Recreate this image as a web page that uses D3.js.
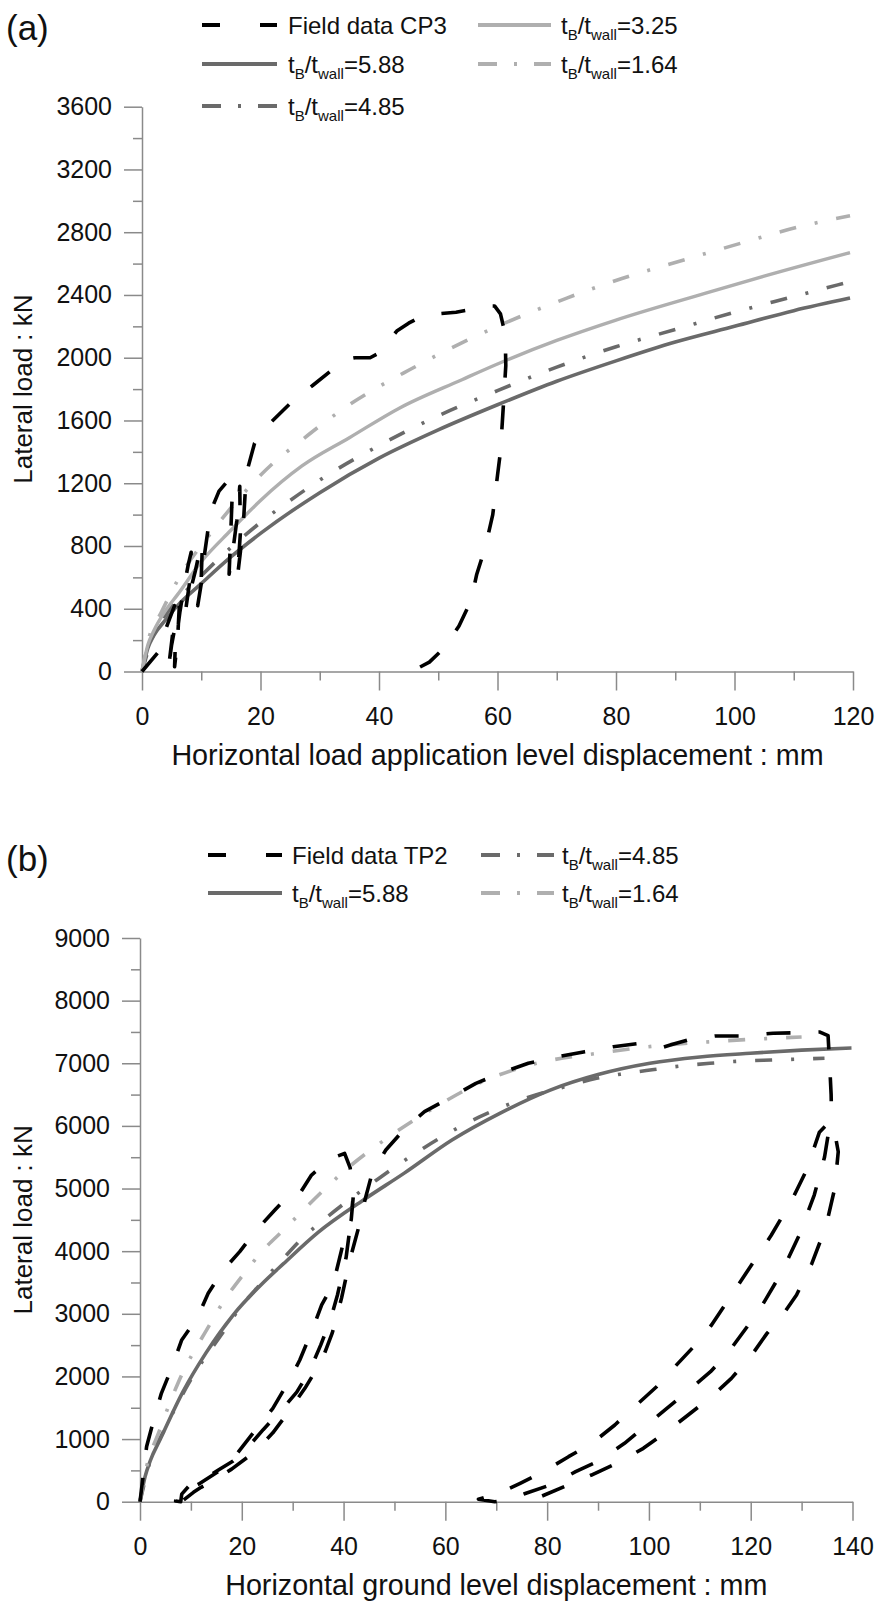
<!DOCTYPE html>
<html>
<head>
<meta charset="utf-8">
<script src="https://cdn.jsdelivr.net/npm/d3@7"></script>
<style>
  html, body { margin: 0; padding: 0; background: #fff; }
  svg { display: block; font-family: "Liberation Sans", Arial, Helvetica, sans-serif; }
</style>
</head>
<body>
<svg id="chart" width="877" height="1601"></svg>
<script>
// ---------- Panel (a): lateral load vs load-application-level displacement ----------
const aXTicks = [0, 20, 40, 60, 80, 100, 120];
const aXMinor = [10, 30, 50, 70, 90, 110];
const aYTicks = [0, 400, 800, 1200, 1600, 2000, 2400, 2800, 3200, 3600];
const aYMinor = [200, 600, 1000, 1400, 1800, 2200, 2600, 3000, 3400];

// Field data CP3 (cyclic loading record), [mm, kN]
const aFieldCP3 = [
  [0,0],[2.8,126],[3.6,230],[4.6,330],[5.5,420],[5.2,250],[4.6,60],[4.4,0],[5.0,170],[5.8,330],
  [6.3,420],[6.0,200],[5.5,30],[5.6,150],[6.4,380],[7.0,520],[7.8,680],[8.3,760],[8.0,560],[7.4,400],
  [8.2,520],[9.0,640],[9.8,780],[10.2,820],[10.0,600],[9.4,420],[10.0,560],[10.6,760],[11.2,920],[11.8,1040],
  [13.0,1150],[14.6,1220],[15.3,1200],[15.0,900],[14.7,620],[15.3,760],[16.0,960],[16.5,1180],[16.6,880],[16.1,600],
  [16.6,760],[17.2,1000],[17.6,1260],[19.0,1455],[21.6,1582],[25.3,1720],[28.9,1826],[32,1920],[34.5,1990],[36,2000],
  [38.5,2000],[40,2030],[41.5,2100],[43,2170],[45,2220],[47,2260],[50,2280],[53,2290],[56,2310],[58,2330],
  [59.5,2330],[60.5,2280],[61.3,2150],[61.4,1950],[61,1700],[60.5,1400],[60,1250],[59.2,1000],[58,800],[56.5,620],
  [55.5,450],[53.5,290],[51,150],[48.5,60],[46.5,20],[45,0]
];
const aRatio588 = [[0,0],[1,150],[2,230],[4,330],[6,420],[10,560],[15,730],[20,880],[30,1140],[40,1360],[50,1540],[60,1700],[70,1850],[80,1980],[90,2100],[100,2200],[110,2300],[119.5,2380]];
const aRatio485 = [[0,0],[2,240],[5,410],[10,610],[15,790],[20,950],[25,1090],[30,1220],[40,1440],[50,1630],[60,1790],[70,1940],[80,2070],[90,2180],[100,2290],[110,2390],[119,2480]];
const aRatio325 = [[0,0],[1,170],[2,260],[4,390],[6,490],[10,700],[15,900],[20,1090],[27,1310],[35,1490],[43.5,1680],[54,1860],[60,1960],[70,2110],[80,2240],[95,2410],[105,2520],[119.5,2670]];
const aRatio164 = [[0,0],[1,190],[3.3,380],[6,580],[12,900],[18.7,1200],[22.4,1337],[26.4,1458],[30.6,1582],[34.5,1688],[39,1794],[45,1920],[50,2020],[60,2200],[71.7,2380],[81,2505],[91,2618],[101,2729],[111,2835],[119.5,2905]];

// ---------- Panel (b): lateral load vs ground-level displacement ----------
const bXTicks = [0, 20, 40, 60, 80, 100, 120, 140];
const bXMinor = [10, 30, 50, 70, 90, 110, 130];
const bYTicks = [0, 1000, 2000, 3000, 4000, 5000, 6000, 7000, 8000, 9000];
const bYMinor = [500, 1500, 2500, 3500, 4500, 5500, 6500, 7500, 8500];

// Field data TP2, recorded as continuous runs of [mm, kN]
const bFieldTP2 = [
  [ [0,0],[0.6,400],[1.3,880],[2.6,1277],[4.2,1730],[6.2,2130],[8.2,2582],[11.2,2928],[13.4,3327],[16.1,3672],
    [19.6,3992],[22.6,4311],[26.5,4658],[28.5,4830],[30.8,4844],[33.7,5216],[37.6,5483],[40.2,5560],[41.3,5330],[41.9,4870],
    [41.5,4500],[40.2,4232],[39.6,4016],[38,3487],[35.7,3141],[34.1,2794],[31.4,2262],[29.4,1943],[26.1,1491],[23.2,1198],
    [18.6,720],[15.7,500],[11.5,280],[8.8,170],[7.3,110],[7,10],[8,0],[8.2,120],[9.5,240],[12,330],
    [15.4,506],[18.3,650],[21,850],[24.2,1150],[27.8,1464],[30.8,1750],[33.4,2100],[35.5,2500],[37.4,2900],[38.8,3300],
    [40.5,3900],[41.3,4400],[41.8,4800] ],
  [ [8.6,30],[10.5,150],[12,230],[14.6,340],[18,520],[22.6,800],[26.1,1100],[28.4,1350],[32.4,1810],[35.7,2250],
    [37.8,2700],[39.6,3250],[41.2,3850],[43,4391],[44.2,4817],[45.6,5243],[48.3,5615],[52.4,5988],[55.9,6227],[61.3,6466],
    [66,6680],[71.1,6850],[76.3,7000],[82.2,7105],[87.4,7185],[93,7265],[98.3,7319],[102.5,7250],[104.5,7300],[108.1,7383],
    [113,7436],[118.7,7436],[124.4,7480],[130,7489],[133.5,7500],[135.2,7440],[135.5,7000],[135.8,6500],[135.9,6100],[133.5,5900],
    [131,5300],[128,4800],[124,4250],[119.5,3700],[115.5,3210],[112.3,2821],[109.1,2502],[105.1,2156],[101.5,1836],[97.2,1517],
    [93.3,1225],[88.8,932],[84.2,719],[79.3,479],[74.7,294],[71,150],[66.5,40],[69.7,0],[72.5,30],[75.7,131],
    [80.6,266],[85.6,479],[90.5,665],[95.2,932],[99.2,1198],[103.1,1464],[107.1,1730],[112.1,2076],[115.7,2395],[119.3,2794],
    [122.3,3141],[126,3650],[129.5,4250],[132.5,4900],[134.5,5500],[135.5,6000],[136.5,5900],[137.2,5588],[136.5,5000],[134.8,4400],
    [132,3800],[129,3300],[126,2950],[123.2,2687],[120.2,2342],[116.2,1970],[112.3,1677],[107.7,1384],[103.5,1118],[98.9,852],
    [94.3,639],[88.7,426],[84.1,266],[78.7,80],[74.3,0] ]
];
const bRatio588 = [[0,0],[1,400],[2,650],[4,1000],[8.4,1750],[13,2380],[18.3,2980],[24,3480],[28.2,3800],[35,4300],[43.9,4817],[52,5250],[61.3,5775],[70.7,6201],[80.6,6572],[90,6820],[100.2,7000],[110,7100],[119.9,7160],[130,7210],[139.8,7245]];
const bRatio485 = [[0,0],[2,650],[5,1180],[10,1950],[16.4,2715],[19.6,3090],[23.6,3470],[27.8,3850],[32.2,4230],[36.7,4540],[41.6,4850],[46.2,5120],[51.1,5400],[56,5660],[60.5,5880],[66.5,6135],[72,6330],[77.6,6490],[83.5,6626],[89.7,6760],[95.6,6840],[101,6900],[106,6954],[112,7000],[118,7034],[124,7052],[130,7068],[134.5,7080]];
const bRatio164 = [[0,0],[1,450],[3.9,1150],[7.5,1900],[13.5,2800],[16.7,3232],[20.5,3647],[24.1,4008],[28.2,4338],[32.4,4680],[36.8,5030],[41.3,5360],[46.2,5668],[57.3,6265],[67.3,6706],[78,7000],[90,7160],[101.9,7281],[112.1,7344],[122,7390],[130,7420]];

// ---------- shared styles ----------
const DARK = "#6a6a6a", LIGHT = "#afafaf", BLACK = "#000";
const styles = {
  field:   { stroke: BLACK, width: 3.6, dash: "24,28" },
  r588:    { stroke: DARK,  width: 3.6, dash: null },
  r485:    { stroke: DARK,  width: 3.6, dash: "17,19,3,19" },
  r325:    { stroke: LIGHT, width: 3.4, dash: null },
  r164:    { stroke: LIGHT, width: 3.6, dash: "17,19,3,19" }
};
const legendDash = { field: "18,40", r485: "19,17,3,17", r164: "19,17,3,17", r588: null, r325: null };

const svg = d3.select("#chart");
svg.append("rect").attr("width", 877).attr("height", 1601).attr("fill", "#fff");

function drawPanel(p) {
  const x = d3.scaleLinear().domain(p.xDomain).range(p.xRange);
  const y = d3.scaleLinear().domain(p.yDomain).range(p.yRange);
  const g = svg.append("g");

  // axes
  const axisColor = "#8a8a8a";
  g.append("g").attr("transform", `translate(0,${p.yRange[0]})`)
    .call(d3.axisBottom(x).tickValues(p.xTicks).tickSize(19).tickSizeOuter(0).tickPadding(17).tickFormat(d3.format("d")));
  const xMin = g.append("g").attr("transform", `translate(0,${p.yRange[0]})`)
    .call(d3.axisBottom(x).tickValues(p.xMinor).tickSize(9).tickSizeOuter(0).tickFormat(""));
  xMin.select(".domain").remove();
  g.append("g").attr("transform", `translate(${p.xRange[0]},0)`)
    .call(d3.axisLeft(y).tickValues(p.yTicks).tickSize(18).tickSizeOuter(0).tickPadding(12).tickFormat(d3.format("d")));
  const yMin = g.append("g").attr("transform", `translate(${p.xRange[0]},0)`)
    .call(d3.axisLeft(y).tickValues(p.yMinor).tickSize(9).tickSizeOuter(0).tickFormat(""));
  yMin.select(".domain").remove();
  g.selectAll(".domain, .tick line").attr("stroke", axisColor).attr("stroke-width", 1.5);
  g.selectAll(".tick text").attr("fill", "#111").attr("font-size", 25)
    .attr("font-family", "'Liberation Sans', Arial, sans-serif");

  // axis titles
  g.append("text")
    .attr("x", (p.xRange[0] + p.xRange[1]) / 2).attr("y", p.yRange[0] + 93.5)
    .attr("text-anchor", "middle").attr("font-size", 28.7).attr("fill", "#111")
    .text(p.xTitle);
  g.append("text")
    .attr("transform", `translate(32,${(p.yRange[0] + p.yRange[1]) / 2}) rotate(-90)`)
    .attr("text-anchor", "middle").attr("font-size", 26).attr("fill", "#111")
    .text("Lateral load : kN");

  // curves
  const smooth = d3.line().x(d => x(d[0])).y(d => y(d[1])).curve(d3.curveMonotoneX);
  const raw = d3.line().x(d => x(d[0])).y(d => y(d[1])).curve(d3.curveLinear);
  p.series.forEach(s => {
    const st = styles[s.style];
    const runs = s.runs ? s.data : [s.data];
    runs.forEach(run => {
      g.append("path")
        .attr("d", (s.runs ? raw : smooth)(run))
        .attr("fill", "none")
        .attr("stroke", st.stroke)
        .attr("stroke-width", st.width)
        .attr("stroke-linejoin", "round")
        .attr("stroke-dasharray", st.dash);
    });
  });

  // panel letter
  g.append("text").attr("x", 6).attr("y", p.letterY).attr("font-size", 35).attr("fill", "#111").text(p.letter);

  // legend
  p.legend.forEach(item => {
    const st = styles[item.style];
    const cy = item.cy;
    g.append("line")
      .attr("x1", item.x1).attr("x2", item.x2).attr("y1", cy).attr("y2", cy)
      .attr("stroke", st.stroke).attr("stroke-width", 4)
      .attr("stroke-dasharray", legendDash[item.style]);
    const t = g.append("text").attr("x", item.tx).attr("y", cy + 8.5)
      .attr("font-size", 24).attr("fill", "#111");
    if (item.ratio === undefined) {
      t.text(item.label);
    } else {
      t.append("tspan").text("t");
      t.append("tspan").attr("dy", 6).attr("font-size", 15).text("B");
      t.append("tspan").attr("dy", -6).text("/t");
      t.append("tspan").attr("dy", 6).attr("font-size", 15).text("wall");
      t.append("tspan").attr("dy", -6).text("=" + item.ratio);
    }
  });
}

drawPanel({
  xDomain: [0, 120], xRange: [142, 853],
  yDomain: [0, 3600], yRange: [671.5, 106.7],
  xTicks: aXTicks, xMinor: aXMinor, yTicks: aYTicks, yMinor: aYMinor,
  xTitle: "Horizontal load application level displacement : mm",
  letter: "(a)", letterY: 40,
  series: [
    { data: aRatio588, style: "r588" },
    { data: aRatio485, style: "r485" },
    { data: aRatio325, style: "r325" },
    { data: aRatio164, style: "r164" },
    { data: [aFieldCP3], style: "field", runs: true }
  ],
  legend: [
    { style: "field", label: "Field data CP3", cy: 25,  x1: 202, x2: 277, tx: 288 },
    { style: "r325",  ratio: "3.25",           cy: 25,  x1: 478, x2: 551, tx: 561 },
    { style: "r588",  ratio: "5.88",           cy: 64,  x1: 202, x2: 277, tx: 288 },
    { style: "r164",  ratio: "1.64",           cy: 64,  x1: 478, x2: 551, tx: 561 },
    { style: "r485",  ratio: "4.85",           cy: 106, x1: 202, x2: 277, tx: 288 }
  ]
});

drawPanel({
  xDomain: [0, 140], xRange: [140, 852.5],
  yDomain: [0, 9000], yRange: [1501.7, 938],
  xTicks: bXTicks, xMinor: bXMinor, yTicks: bYTicks, yMinor: bYMinor,
  xTitle: "Horizontal ground level displacement : mm",
  letter: "(b)", letterY: 871,
  series: [
    { data: bRatio588, style: "r588" },
    { data: bRatio485, style: "r485" },
    { data: bRatio164, style: "r164" },
    { data: bFieldTP2, style: "field", runs: true }
  ],
  legend: [
    { style: "field", label: "Field data TP2", cy: 855, x1: 208, x2: 282, tx: 292 },
    { style: "r485",  ratio: "4.85",           cy: 855, x1: 481, x2: 554, tx: 562 },
    { style: "r588",  ratio: "5.88",           cy: 893, x1: 208, x2: 282, tx: 292 },
    { style: "r164",  ratio: "1.64",           cy: 893, x1: 481, x2: 554, tx: 562 }
  ]
});
</script>
</body>
</html>
